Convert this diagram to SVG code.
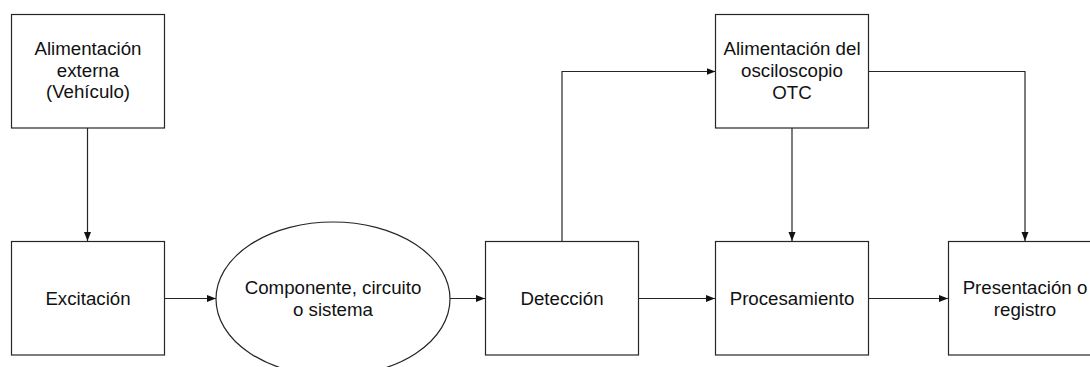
<svg xmlns="http://www.w3.org/2000/svg" width="1090" height="367" viewBox="0 0 1090 367">
  <style>
    .box { fill: #ffffff; stroke: #262626; stroke-width: 1.2; }
    .lbl { font-family: "Liberation Sans", Arial, sans-serif; font-size: 18.7px; fill: #111111; text-anchor: middle; }
    .wire { fill: none; stroke: #262626; stroke-width: 1.2; marker-end: url(#arrow); }
  </style>
  <defs>
    <marker id="arrow" markerUnits="userSpaceOnUse" markerWidth="10" markerHeight="8" refX="9" refY="4" orient="auto">
      <path d="M0,0.5 L9,4 L0,7.5 Z" fill="#111111"/>
    </marker>
  </defs>
  <rect width="1090" height="367" fill="#ffffff"/>

  <!-- connectors -->
  <g id="connectors">
    <path class="wire" d="M87.5,128 V241"/>
    <path class="wire" d="M165,298.5 H216"/>
    <path class="wire" d="M450,298.5 H485"/>
    <path class="wire" d="M639,298.5 H715"/>
    <path class="wire" d="M869,298.5 H948"/>
    <path class="wire" d="M562,241 V71.5 H715.5"/>
    <path class="wire" d="M792,128 V241"/>
    <path class="wire" d="M869,71.5 H1025 V241"/>
  </g>

  <!-- nodes -->
  <g id="alim-externa">
    <rect class="box" x="11.5" y="14.5" width="153" height="113.5"/>
    <text class="lbl" x="88" y="55">Alimentación</text>
    <text class="lbl" x="88" y="76.7">externa</text>
    <text class="lbl" x="88" y="98.3">(Vehículo)</text>
  </g>

  <g id="excitacion">
    <rect class="box" x="11.5" y="241.5" width="153" height="113.5"/>
    <text class="lbl" x="88" y="305">Excitación</text>
  </g>

  <g id="componente">
    <ellipse class="box" cx="333" cy="299" rx="117" ry="77"/>
    <text class="lbl" x="333" y="294">Componente, circuito</text>
    <text class="lbl" x="333" y="315.5">o sistema</text>
  </g>

  <g id="deteccion">
    <rect class="box" x="485.5" y="241.5" width="153" height="113.5"/>
    <text class="lbl" x="562" y="305">Detección</text>
  </g>

  <g id="alim-osciloscopio">
    <rect class="box" x="715.5" y="14.5" width="153" height="113.5"/>
    <text class="lbl" x="792" y="55">Alimentación del</text>
    <text class="lbl" x="792" y="76.7">osciloscopio</text>
    <text class="lbl" x="792" y="98.8">OTC</text>
  </g>

  <g id="procesamiento">
    <rect class="box" x="715.5" y="241.5" width="153" height="113.5"/>
    <text class="lbl" x="792" y="305">Procesamiento</text>
  </g>

  <g id="presentacion">
    <rect class="box" x="948.5" y="241.5" width="153" height="113.5"/>
    <text class="lbl" x="1025" y="294">Presentación o</text>
    <text class="lbl" x="1025" y="315.7">registro</text>
  </g>
</svg>
